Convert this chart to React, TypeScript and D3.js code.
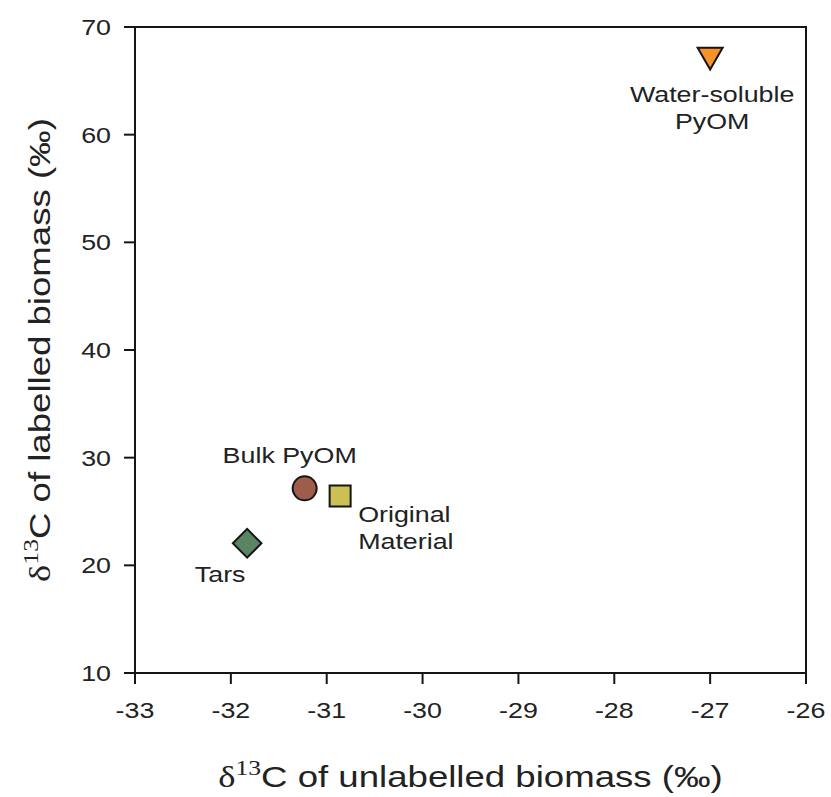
import React from "react";
import * as d3 from "d3";

const labels = ["Water-soluble PyOM", "Bulk PyOM", "Original Material", "Tars"];
const xValues = [-27.0, -31.23, -30.86, -31.83];
const yValues = [67.4, 27.15, 26.45, 22.05];
const symbolKinds = ["triangleDown", "circle", "square", "diamond"];
const fills = ["#F7922A", "#9E5C4B", "#CBC152", "#5B8462"];
const xTicks = [-33, -32, -31, -30, -29, -28, -27, -26];
const yTicks = [10, 20, 30, 40, 50, 60, 70];

const W = 831, H = 797;
const left = 135, right = 806, top = 27, bottom = 673;
const SX = 1.22;

const font = "'Liberation Sans', Arial, sans-serif";
const serif = "'Liberation Serif', 'Times New Roman', serif";

function T({ x, y, anchor = "start", size = 22, rotate = 0, children }: any) {
  return (
    <g transform={`translate(${x},${y}) rotate(${rotate}) scale(${SX},1)`}>
      <text x={0} y={0} textAnchor={anchor} fontFamily={font} fontSize={size} fill="#222">
        {children}
      </text>
    </g>
  );
}

export default function App() {
  const x = d3.scaleLinear().domain([-33, -26]).range([left, right]);
  const y = d3.scaleLinear().domain([10, 70]).range([bottom, top]);
  const stroke = "#151515";

  const symPath = (k: string) => {
    if (k === "triangleDown") return d3.symbol(d3.symbolTriangle, 270)()!;
    if (k === "circle") return d3.symbol(d3.symbolCircle, 452)()!;
    if (k === "square") return d3.symbol(d3.symbolSquare, 441)()!;
    return d3.symbol(d3.symbolSquare, 410)()!;
  };
  const symRot = (k: string) => (k === "triangleDown" ? 180 : k === "diamond" ? 45 : 0);

  const labelLines: { lines: string[]; anchor: string; dx: number; dy: number }[] = [
    { lines: ["Water-soluble", "PyOM"], anchor: "middle", dx: 2, dy: 47 },
    { lines: ["Bulk PyOM"], anchor: "middle", dx: -15, dy: -25 },
    { lines: ["Original", "Material"], anchor: "start", dx: 18, dy: 26 },
    { lines: ["Tars"], anchor: "middle", dx: -27, dy: 39 },
  ];

  return (
    <svg width={W} height={H} style={{ position: "absolute", left: 0, top: 0, background: "#fff" }}>
      <rect x={0} y={0} width={W} height={H} fill="#fff" />
      <rect x={left} y={top} width={right - left} height={bottom - top} fill="none" stroke={stroke} strokeWidth={2} />
      {xTicks.map((t) => (
        <g key={"x" + t}>
          <line x1={x(t)} x2={x(t)} y1={bottom} y2={bottom + 11} stroke={stroke} strokeWidth={2} />
          <T x={x(t)} y={bottom + 45} anchor="middle">{t < 0 ? "-" + Math.abs(t) : t}</T>
        </g>
      ))}
      {yTicks.map((t) => (
        <g key={"y" + t}>
          <line x1={left - 11} x2={left} y1={y(t)} y2={y(t)} stroke={stroke} strokeWidth={2} />
          <T x={left - 24} y={y(t) + 8} anchor="end">{t}</T>
        </g>
      ))}
      {xValues.map((xv, i) => (
        <path
          key={"p" + i}
          d={symPath(symbolKinds[i])}
          transform={`translate(${x(xv)},${y(yValues[i])}) rotate(${symRot(symbolKinds[i])})`}
          fill={fills[i]}
          stroke={stroke}
          strokeWidth={2}
          aria-label={labels[i]}
        />
      ))}
      {labelLines.map((l, i) =>
        l.lines.map((s, j) => (
          <T key={"l" + i + "-" + j} x={x(xValues[i]) + l.dx} y={y(yValues[i]) + l.dy + j * 27} anchor={l.anchor}>
            {s}
          </T>
        ))
      )}
      <T x={(left + right) / 2} y={787} anchor="middle" size={30}>
        <tspan fontFamily={serif} fontSize={30}>δ</tspan>
        <tspan fontFamily={serif} fontSize={21} dy={-12}>13</tspan>
        <tspan dy={12}>C of unlabelled biomass (‰)</tspan>
      </T>
      <T x={50} y={(top + bottom) / 2} anchor="middle" size={30} rotate={-90}>
        <tspan fontFamily={serif} fontSize={30}>δ</tspan>
        <tspan fontFamily={serif} fontSize={21} dy={-12}>13</tspan>
        <tspan dy={12}>C of labelled biomass (‰)</tspan>
      </T>
    </svg>
  );
}
